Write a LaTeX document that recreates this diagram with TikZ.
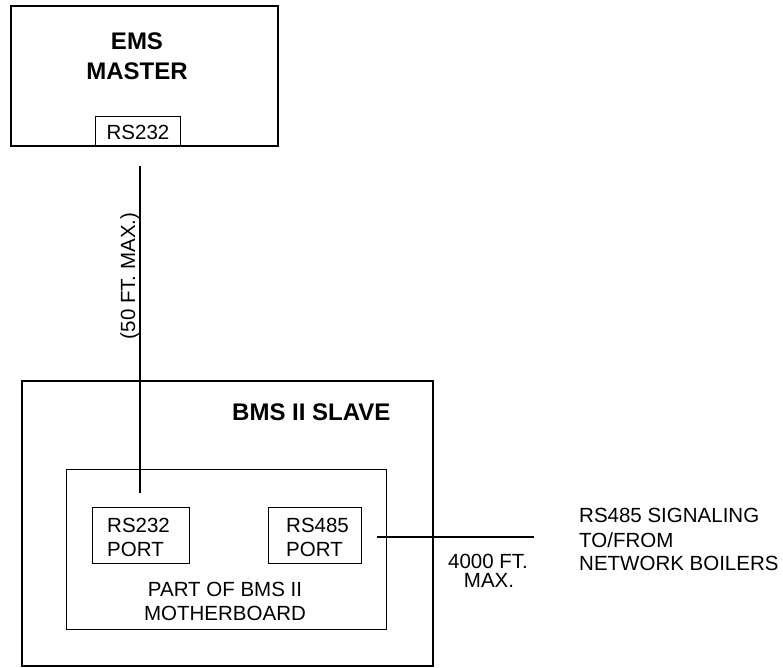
\documentclass[tikz,border=0pt]{standalone}
\usepackage{fontspec}
\setmainfont{Liberation Sans}
\begin{document}
\begin{tikzpicture}[x=1pt,y=-1pt,
  thick box/.style={draw,line width=1.7pt},
  thin box/.style={draw,line width=0.9pt},
  wire/.style={line width=1.7pt},
  big/.style={font=\fontsize{24}{28}\selectfont\bfseries,inner sep=0pt},
  txt/.style={font=\fontsize{20.5}{24}\selectfont,inner sep=0pt}]
\useasboundingbox (0,0) rectangle (783,668);
% EMS master
\draw[thick box] (11,6) rectangle (278,146);
\node[big,anchor=base] (ems1) at (137,50) {EMS};
\node[big,anchor=base] (ems2) at (137,80) {MASTER};
\draw[thin box] (95,116) rectangle (180,146);
\node[txt,anchor=base] (emsport) at (138,140) {RS232};
% BMS slave
\draw[thick box] (22,381) rectangle (433,666);
\node[big,anchor=base west] (bms) at (232,420) {BMS II SLAVE};
\draw[thin box] (66,469) rectangle (386,629);
\draw[thin box] (92,507) rectangle (189,563);
\node[txt,anchor=base west] (p1a) at (107,532) {RS232};
\node[txt,anchor=base west] (p1b) at (107,556) {PORT};
\draw[thin box] (268,507) rectangle (361,563);
\node[txt,anchor=base west] (p2a) at (286,532) {RS485};
\node[txt,anchor=base west] (p2b) at (286,556) {PORT};
\node[txt,anchor=base] (mb1) at (225,596) {PART OF BMS II};
\node[txt,anchor=base] (mb2) at (225,620) {MOTHERBOARD};
% connectors
\coordinate (va) at (140,166);
\coordinate (vb) at (140,493);
\draw[wire] (va) -- (vb);
\node[txt,anchor=base,rotate=90] (len1) at (135,276) {(50 FT. MAX.)};
\coordinate (ha) at (377,537);
\coordinate (hb) at (534,537);
\draw[wire] (ha) -- (hb);
\node[txt,anchor=base] (len2a) at (488,568) {4000 FT.};
\node[txt,anchor=base] (len2b) at (489,587) {MAX.};
\node[txt,anchor=base west] (sig1) at (579,522) {RS485 SIGNALING};
\node[txt,anchor=base west] (sig2) at (579,547) {TO/FROM};
\node[txt,anchor=base west] (sig3) at (579,570) {NETWORK BOILERS};
\end{tikzpicture}
\end{document}
